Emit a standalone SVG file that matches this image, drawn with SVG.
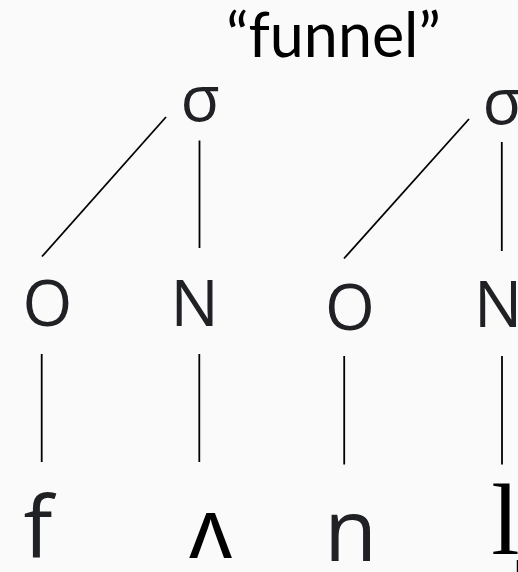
<svg xmlns="http://www.w3.org/2000/svg" width="518" height="572" viewBox="0 0 518 572">
  <style>
    .sym { font-family: "Open Sans", "Noto Sans", sans-serif; font-size: 64px; fill: #202124; text-anchor: middle; }
    .seg { font-family: "Open Sans", "Noto Sans", sans-serif; font-size: 86px; fill: #202124; text-anchor: middle; }
    .ipa { font-family: "Noto Sans", "DejaVu Sans", sans-serif; font-size: 84px; fill: #000; text-anchor: middle; }
    .serif { font-family: "Liberation Serif", "DejaVu Serif", serif; font-size: 102px; fill: #000; text-anchor: middle; }
    .title { font-family: Lato, "Open Sans", sans-serif; font-size: 61px; fill: #000; text-anchor: middle; }
    .edge { stroke: #000; stroke-width: 1.8; fill: none; }
  </style>
  <rect width="518" height="572" fill="#fafafa"/>

  <g id="title">
    <text class="title" x="333.5" y="57">“funnel”</text>
  </g>

  <!-- syllable nodes -->
  <g id="syllable-1"><text class="sym" x="200" y="121">σ</text></g>
  <g id="syllable-2"><text class="sym" x="502" y="124">σ</text></g>

  <!-- onset / nucleus nodes -->
  <g id="onset-1"><text class="sym" x="47.5" y="326">O</text></g>
  <g id="nucleus-1"><text class="sym" x="194.5" y="325.7">N</text></g>
  <g id="onset-2"><text class="sym" x="350" y="329.5">O</text></g>
  <g id="nucleus-2"><text class="sym" x="498" y="327.3">N</text></g>

  <!-- segments -->
  <g id="seg-f"><text class="seg" x="38" y="557.7">f</text></g>
  <g id="seg-wedge"><text class="ipa" x="210.5" y="557.7">ʌ</text></g>
  <g id="seg-n"><text class="seg" x="350.5" y="560.5">n</text></g>
  <g id="seg-l"><text class="serif" x="505.3" y="554">l̩</text></g>

  <g id="connectors">
    <line class="edge" x1="42" y1="256.5" x2="166" y2="117"/>
    <line class="edge" x1="199.5" y1="140.5" x2="199.5" y2="248"/>
    <line class="edge" x1="344" y1="258.5" x2="469" y2="119"/>
    <line class="edge" x1="501.8" y1="142" x2="501.8" y2="251"/>
    <line class="edge" x1="41.7" y1="354" x2="41.7" y2="462"/>
    <line class="edge" x1="199.3" y1="354" x2="199.3" y2="462"/>
    <line class="edge" x1="344.2" y1="356" x2="344.2" y2="464.5"/>
    <line class="edge" x1="502" y1="356" x2="502" y2="464.5"/>
  </g>
</svg>
